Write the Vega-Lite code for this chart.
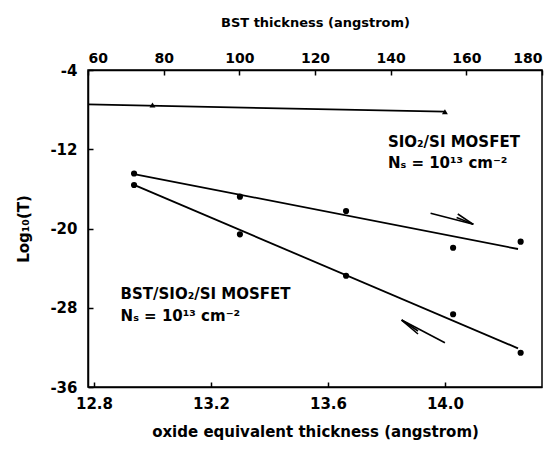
{
  "$schema": "https://vega.github.io/schema/vega-lite/v6.json",
  "width": 454,
  "height": 317,
  "autosize": {"type": "none"},
  "padding": {"left": 88, "top": 70, "right": 16, "bottom": 68},
  "background": "white",
  "config": {
    "view": {"stroke": "black", "strokeWidth": 1.5},
    "font": "DejaVu Sans",
    "axis": {
      "grid": false,
      "domainColor": "black",
      "domainWidth": 1.5,
      "tickColor": "black",
      "tickWidth": 1.5,
      "tickSize": -5,
      "labelColor": "black",
      "labelFont": "DejaVu Sans",
      "labelFontWeight": "bold",
      "titleColor": "black",
      "titleFont": "DejaVu Sans",
      "titleFontWeight": "bold"
    }
  },
  "datasets": {
    "bstTicks": [{"bst": 60}, {"bst": 180}],
    "fits": [
      {"series": "ref", "x": 12.7795, "y": -7.48},
      {"series": "ref", "x": 14.0, "y": -8.21},
      {"series": "sio2", "x": 12.937, "y": -14.5},
      {"series": "sio2", "x": 14.25, "y": -22.07},
      {"series": "bst", "x": 12.937, "y": -15.6},
      {"series": "bst", "x": 14.25, "y": -32.1}
    ],
    "tri": [
      {"x": 13.0, "y": -7.53},
      {"x": 14.0, "y": -8.21}
    ],
    "dots": [
      {"series": "sio2", "x": 12.937, "y": -14.45},
      {"series": "sio2", "x": 13.299, "y": -16.79},
      {"series": "sio2", "x": 13.662, "y": -18.23},
      {"series": "sio2", "x": 14.028, "y": -21.94},
      {"series": "sio2", "x": 14.259, "y": -21.33},
      {"series": "bst", "x": 12.937, "y": -15.61},
      {"series": "bst", "x": 13.299, "y": -20.59},
      {"series": "bst", "x": 13.662, "y": -24.77},
      {"series": "bst", "x": 14.028, "y": -28.66},
      {"series": "bst", "x": 14.259, "y": -32.54}
    ],
    "arrows": [
      {"x": 13.951, "y": -18.47, "x2": 14.097, "y2": -19.58},
      {"x": 14.097, "y": -19.58, "x2": 14.044, "y2": -18.54},
      {"x": 14.097, "y": -19.58, "x2": 14.04, "y2": -18.9},
      {"x": 14.0, "y": -31.53, "x2": 13.852, "y2": -29.24},
      {"x": 13.852, "y": -29.24, "x2": 13.908, "y2": -30.65},
      {"x": 13.852, "y": -29.24, "x2": 13.908, "y2": -30.35}
    ],
    "labels": [
      {"x": 13.805, "y": -11.74, "text": "SIO₂/SI MOSFET"},
      {"x": 13.805, "y": -13.86, "text": "Nₛ = 10¹³ cm⁻²"},
      {"x": 12.891, "y": -27.15, "text": "BST/SIO₂/SI MOSFET"},
      {"x": 12.891, "y": -29.31, "text": "Nₛ = 10¹³ cm⁻²"}
    ]
  },
  "layer": [
    {
      "data": {"name": "bstTicks"},
      "mark": {"type": "point", "opacity": 0},
      "encoding": {
        "x": {
          "field": "bst",
          "type": "quantitative",
          "scale": {"domain": [60, 180], "nice": false, "zero": false},
          "axis": {
            "orient": "top",
            "values": [60, 80, 100, 120, 140, 160, 180],
            "title": "BST thickness (angstrom)",
            "labelFontSize": 14,
            "labelPadding": 10,
            "titleFontSize": 13,
            "titlePadding": 22
          }
        }
      }
    },
    {
      "layer": [
        {
          "data": {"name": "fits"},
          "mark": {"type": "line", "color": "black", "strokeWidth": 1.8},
          "encoding": {
            "x": {
              "field": "x",
              "type": "quantitative",
              "scale": {"domain": [12.7795, 14.332], "nice": false, "zero": false},
              "axis": {
                "orient": "bottom",
                "values": [12.8, 13.2, 13.6, 14.0],
                "format": ".1f",
                "title": "oxide equivalent thickness (angstrom)",
                "labelFontSize": 15,
                "labelPadding": 14,
                "titleFontSize": 15,
                "titlePadding": 13
              }
            },
            "y": {
              "field": "y",
              "type": "quantitative",
              "scale": {"domain": [-36, -4], "nice": false, "zero": false},
              "axis": {
                "values": [-4, -12, -20, -28, -36],
                "labelExpr": "'-' + abs(datum.value)",
                "title": "Log₁₀(T)",
                "labelFontSize": 15,
                "labelPadding": 16,
                "titleFontSize": 15,
                "titlePadding": 18
              }
            },
            "detail": {"field": "series"}
          }
        },
        {
          "data": {"name": "tri"},
          "mark": {"type": "point", "shape": "triangle-up", "filled": true, "color": "black", "size": 35, "opacity": 1},
          "encoding": {
            "x": {"field": "x", "type": "quantitative"},
            "y": {"field": "y", "type": "quantitative"}
          }
        },
        {
          "data": {"name": "dots"},
          "mark": {"type": "circle", "color": "black", "size": 38, "opacity": 1},
          "encoding": {
            "x": {"field": "x", "type": "quantitative"},
            "y": {"field": "y", "type": "quantitative"}
          }
        },
        {
          "data": {"name": "arrows"},
          "mark": {"type": "rule", "color": "black", "strokeWidth": 1.6},
          "encoding": {
            "x": {"field": "x", "type": "quantitative"},
            "y": {"field": "y", "type": "quantitative"},
            "x2": {"field": "x2"},
            "y2": {"field": "y2"}
          }
        },
        {
          "data": {"name": "labels"},
          "mark": {"type": "text", "align": "left", "baseline": "alphabetic", "font": "DejaVu Sans", "fontWeight": "bold", "fontSize": 15, "color": "black"},
          "encoding": {
            "x": {"field": "x", "type": "quantitative"},
            "y": {"field": "y", "type": "quantitative"},
            "text": {"field": "text"}
          }
        }
      ]
    }
  ],
  "resolve": {"scale": {"x": "independent"}}
}
